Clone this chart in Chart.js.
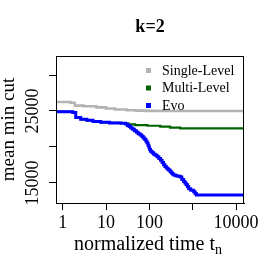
<!DOCTYPE html>
<html>
<head>
<meta charset="utf-8">
<script src="https://cdn.jsdelivr.net/npm/chart.js@4/dist/chart.umd.min.js"></script>
<style>
  html, body { margin: 0; padding: 0; background: #fff; }
  #chart { display: block; }
</style>
</head>
<body>
<canvas id="chart" width="273" height="273"></canvas>
<script>
// values (time is normalized, log axis)
const singleT   = [0.72, 1.5, 1.9, 3, 6, 10, 16, 30, 50, 80, 150, 15000];
const singleCut = [26250, 26150, 25750, 25650, 25500, 25350, 25200, 25100, 25050, 25020, 25000, 25000];

const multiT   = [0.72, 1.7, 2.0, 2.6, 3.6, 5, 7.5, 12, 22, 28, 33, 47, 90, 178, 300, 512, 15000];
const multiCut = [24900, 24800, 24100, 23850, 23700, 23550, 23430, 23350, 23300, 23250, 23150, 23050, 22950, 22820, 22700, 22600, 22600];

const evoT   = [0.72, 1.7, 2.0, 2.6, 3.6, 5, 7.5, 12, 22, 28, 31, 34, 37, 41, 45, 50, 55, 61, 67, 72, 78, 83, 88, 93, 97, 101, 106, 115, 125, 137, 150, 165, 180, 196, 212, 228, 245, 262, 278, 300, 320, 340, 362, 400, 450, 512, 560, 616, 660, 700, 750, 804, 900, 1050, 1130, 1210, 15000];
const evoCut = [24900, 24800, 24100, 23850, 23700, 23550, 23430, 23350, 23300, 23200, 23000, 22850, 22650, 22450, 22250, 22050, 21850, 21650, 21450, 21250, 21050, 20800, 20550, 20250, 19950, 19650, 19400, 19200, 19000, 18850, 18650, 18400, 18150, 17850, 17550, 17300, 17100, 16950, 16800, 16600, 16400, 16250, 16100, 16000, 15950, 15850, 15500, 15200, 15000, 14800, 14500, 14200, 14000, 13800, 13550, 13350, 13350];

const seriesNames  = ['Single-Level', 'Multi-Level', 'Evo'];
const seriesColors = ['#b3b3b3', '#006400', '#0000ff'];

const xTicks = [1, 10, 100, 1000, 10000];
const xTickLabels = ['1', '10', '100', '', '10000'];
const yTicks = [15000, 20000, 25000, 30000];
const yTickLabels = ['15000', '', '25000', ''];

const serif = "'Liberation Serif', 'Times New Roman', serif";

function pts(xs, ys) {
  return xs.map((x, i) => ({ x: x, y: ys[i] }));
}

// R style box, rotated y tick labels, x title with subscript, legend
const extras = {
  id: 'extras',
  afterDraw(chart) {
    const ctx = chart.ctx;
    const a = chart.chartArea;
    const ys = chart.scales.y;
    ctx.save();
    ctx.strokeStyle = '#000';
    ctx.lineWidth = 1;
    ctx.strokeRect(Math.round(a.left) + 0.5, Math.round(a.top) + 0.5,
      Math.round(a.right - a.left) - 1, Math.round(a.bottom - a.top));

    ctx.fillStyle = '#000';
    ctx.font = '18px ' + serif;
    ctx.textAlign = 'center';
    ctx.textBaseline = 'middle';
    for (let i = 0; i < yTicks.length; i++) {
      if (!yTickLabels[i]) continue;
      const py = ys.getPixelForValue(yTicks[i]);
      ctx.save();
      ctx.translate(33, py);
      ctx.rotate(-Math.PI / 2);
      ctx.fillText(yTickLabels[i], 0, 0);
      ctx.restore();
    }

    // x title with subscript n
    const main = 'normalized time t';
    ctx.font = '20px ' + serif;
    const w1 = ctx.measureText(main).width;
    ctx.font = '14px ' + serif;
    const w2 = ctx.measureText('n').width;
    const cx = (a.left + a.right) / 2 - 2;
    const x0 = cx - (w1 + w2) / 2;
    ctx.textAlign = 'left';
    ctx.textBaseline = 'alphabetic';
    ctx.font = '20px ' + serif;
    ctx.fillText(main, x0, 250);
    ctx.font = '14px ' + serif;
    ctx.fillText('n', x0 + w1, 254);

    // legend
    ctx.font = '14px ' + serif;
    ctx.textBaseline = 'middle';
    const rows = [70.5, 88, 105.5];
    for (let i = 0; i < seriesNames.length; i++) {
      ctx.fillStyle = seriesColors[i];
      ctx.fillRect(146, rows[i] - 2.5, 5, 5);
      ctx.fillStyle = '#000';
      ctx.fillText(seriesNames[i], 162, rows[i] + 0.5);
    }
    ctx.restore();
  }
};

const ds = (i, xs, ys, w) => ({
  label: seriesNames[i],
  data: pts(xs, ys),
  borderColor: seriesColors[i],
  backgroundColor: seriesColors[i],
  borderWidth: w,
  stepped: true,
  pointRadius: 0,
  fill: false
});

const config = {
  type: 'line',
  data: {
    // Evo first so it is drawn on top
    datasets: [
      ds(2, evoT, evoCut, 3),
      ds(1, multiT, multiCut, 2.2),
      ds(0, singleT, singleCut, 2.6)
    ]
  },
  options: {
    responsive: false,
    animation: false,
    devicePixelRatio: 1,
    layout: { padding: { left: 0, right: 29, top: 0, bottom: 0 } },
    plugins: {
      legend: { display: false },
      tooltip: { enabled: false },
      title: {
        display: true,
        text: 'k=2',
        fullSize: false,
        color: '#000',
        font: { family: serif, size: 18, weight: 'bold', lineHeight: 1.2 },
        padding: { top: 17, bottom: 17.4 }
      }
    },
    scales: {
      x: {
        type: 'logarithmic',
        min: 0.71,
        max: 15200,
        afterBuildTicks: s => { s.ticks = xTicks.map(v => ({ value: v })); },
        afterFit: s => { s.height = 70; },
        ticks: {
          color: '#000',
          autoSkip: false,
          maxRotation: 0,
          padding: 2,
          font: { family: serif, size: 18 },
          callback: (v, i) => xTickLabels[i]
        },
        grid: { drawOnChartArea: false, drawTicks: true, tickLength: 7, color: '#000' },
        border: { display: true, color: '#000' }
      },
      y: {
        type: 'linear',
        min: 12222,
        max: 32639,
        afterBuildTicks: s => { s.ticks = yTicks.map(v => ({ value: v })); },
        afterFit: s => { s.width = 56; },
        ticks: { color: 'rgba(0,0,0,0)', font: { family: serif, size: 18 } },
        grid: { drawOnChartArea: false, drawTicks: true, tickLength: 7, color: '#000' },
        border: { display: true, color: '#000' },
        title: {
          display: true,
          text: 'mean min cut',
          color: '#000',
          padding: 0,
          font: { family: serif, size: 19, lineHeight: 1.0 }
        }
      }
    }
  },
  plugins: [extras]
};

const myChart = new Chart(document.getElementById('chart'), config);
</script>
</body>
</html>
